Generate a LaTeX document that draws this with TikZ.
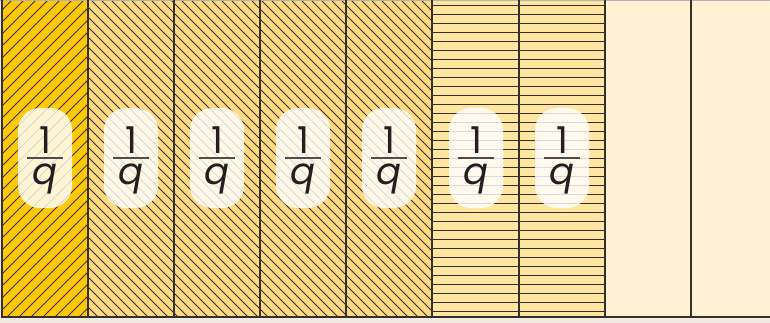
\documentclass[tikz,border=0pt]{standalone}
\usepackage{fontspec}
\setmainfont{Poppins}
\definecolor{bandc}{RGB}{243,235,224}
\definecolor{cA}{RGB}{255,201,10}
\definecolor{cB}{RGB}{255,217,125}
\definecolor{cC}{RGB}{255,230,160}
\definecolor{cD}{RGB}{255,242,212}
\definecolor{ink}{RGB}{35,31,32}
\definecolor{linec}{RGB}{51,48,46}
\tikzset{
  hatch/.style={draw=linec, line width=0.8pt},
  colline/.style={draw=linec, line width=1.3pt},
  pill/.style={fill=white, fill opacity=0.82, draw=none, rounded corners=22pt,
    minimum width=54pt, minimum height=100pt, inner sep=0pt},
  fractxt/.style={text=ink, font=\fontsize{37}{31}\selectfont, inner sep=0pt, align=center},
  fracbar/.style={draw=ink!80, line width=1.5pt}
}
\begin{document}
\begin{tikzpicture}[x=1pt,y=-1pt]
\useasboundingbox (0,0) rectangle (770,323);
\fill[bandc] (0,0) rectangle (770,323);
\fill[cA] (2,0) rectangle (88,317);
\fill[cB] (88,0) rectangle (432,317);
\fill[cC] (432,0) rectangle (605,317);
\fill[cD] (605,0) rectangle (770,317);
% hatch column 1
\begin{scope}
\clip (2,0) rectangle (88,317);
\foreach \i in {0,...,35} \draw[hatch] ({-317+12*\i},317) -- ++(317,-317);
\end{scope}
% hatch columns 2-5
\begin{scope}
\clip (88,0) rectangle (432,317);
\foreach \i in {0,...,68} \draw[hatch] ({88-317+10*\i},0) -- ++(317,317);
\end{scope}
% horizontal lines columns 6-7
\begin{scope}
\clip (432,0) rectangle (605,317);
\foreach \i in {0,...,34} \draw[hatch] (432,{5.7+9*\i}) -- (605,{5.7+9*\i});
\end{scope}
% top edge
\draw[draw=black!30, line width=0.8pt] (0,0.3) -- (770,0.3);
% column lines
\foreach \x in {2,88,174,260,346,432,519,605,691}
  \draw[colline] (\x,0) -- (\x,317);
\draw[colline] (1.35,317) -- (770,317);
% labels
\foreach \x [count=\k] in {45,131,217,303,389,476,562}{
  \node[pill] (p\k) at (\x,158) {};
  \node[fractxt] (f\k) at (\x,160) {1\\{\itshape q}};
  \draw[fracbar] (\x-18,158) -- (\x+18,158);
}
\end{tikzpicture}
\end{document}
